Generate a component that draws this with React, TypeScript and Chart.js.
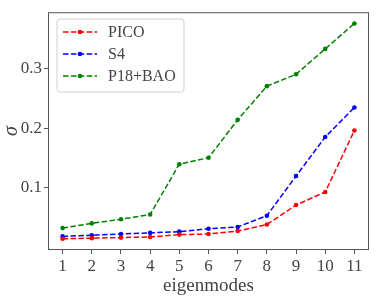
import React, { useEffect, useRef } from "react";
import { Chart, registerables } from "chart.js";

Chart.register(...registerables);

const modes = [1, 2, 3, 4, 5, 6, 7, 8, 9, 10, 11];
const pico = [0.013, 0.014, 0.015, 0.016, 0.02, 0.021, 0.026, 0.037, 0.07, 0.092, 0.196];
const s4 = [0.017, 0.019, 0.021, 0.023, 0.025, 0.03, 0.033, 0.052, 0.119, 0.185, 0.235];
const p18bao = [0.031, 0.039, 0.046, 0.054, 0.139, 0.15, 0.214, 0.271, 0.291, 0.334, 0.377];
const yTicks = [0.1, 0.2, 0.3];
const seriesNames = ["PICO", "S4", "P18+BAO"];
const seriesColors = ["#ff0000", "#0000ff", "#008000"];

const FONT = "'Liberation Serif', 'DejaVu Serif', serif";
const AXIS = "#555555";
const TEXT = "#444444";
const DASH = [5.5, 2.4];

const framePlugin = {
  id: "frame",
  afterDatasetsDraw(chart: any) {
    const { ctx, chartArea: a } = chart;
    ctx.save();
    ctx.strokeStyle = AXIS;
    ctx.lineWidth = 1;
    ctx.strokeRect(a.left + 0.5, a.top + 0.5, a.right - a.left - 1, a.bottom - a.top - 1);
    ctx.restore();
  },
};

const legendPlugin = {
  id: "customLegend",
  afterDraw(chart: any) {
    const { ctx } = chart;
    const x0 = 57, y0 = 19, w = 127, h = 73;
    ctx.save();
    ctx.fillStyle = "rgba(255,255,255,0.85)";
    ctx.strokeStyle = "#d0d0d0";
    ctx.lineWidth = 1;
    const r = 3;
    ctx.beginPath();
    ctx.moveTo(x0 + r, y0);
    ctx.lineTo(x0 + w - r, y0);
    ctx.arcTo(x0 + w, y0, x0 + w, y0 + r, r);
    ctx.lineTo(x0 + w, y0 + h - r);
    ctx.arcTo(x0 + w, y0 + h, x0 + w - r, y0 + h, r);
    ctx.lineTo(x0 + r, y0 + h);
    ctx.arcTo(x0, y0 + h, x0, y0 + h - r, r);
    ctx.lineTo(x0, y0 + r);
    ctx.arcTo(x0, y0, x0 + r, y0, r);
    ctx.closePath();
    ctx.fill();
    ctx.stroke();
    chart.data.datasets.forEach((ds: any, i: number) => {
      const cy = 32 + i * 22;
      ctx.strokeStyle = ds.borderColor;
      ctx.lineWidth = 1.5;
      ctx.setLineDash(DASH);
      ctx.beginPath();
      ctx.moveTo(63, cy);
      ctx.lineTo(97, cy);
      ctx.stroke();
      ctx.setLineDash([]);
      ctx.fillStyle = ds.borderColor;
      ctx.beginPath();
      ctx.arc(80, cy, 2.3, 0, Math.PI * 2);
      ctx.fill();
      ctx.fillStyle = TEXT;
      ctx.font = `16px ${FONT}`;
      ctx.textBaseline = "middle";
      ctx.textAlign = "left";
      ctx.fillText(ds.label, 108, cy + 1);
    });
    ctx.restore();
  },
};

export default function App() {
  const ref = useRef<HTMLCanvasElement>(null);
  useEffect(() => {
    document.body.style.margin = "0";
    const seriesValues = [pico, s4, p18bao];
    const chart = new Chart(ref.current!, {
      type: "line",
      data: {
        datasets: seriesValues.map((vals, i) => ({
          label: seriesNames[i],
          data: modes.map((m, j) => ({ x: m, y: vals[j] })),
          borderColor: seriesColors[i],
          backgroundColor: seriesColors[i],
          borderWidth: 1.5,
          borderDash: DASH,
          pointRadius: 2.3,
          pointBorderWidth: 0,
          pointBackgroundColor: seriesColors[i],
          tension: 0,
          fill: false,
        })),
      },
      options: {
        animation: false,
        responsive: false,
        maintainAspectRatio: false,
        layout: { padding: { left: 0, top: 11, right: 13, bottom: 0 } },
        plugins: { legend: { display: false }, tooltip: { enabled: false } },
        scales: {
          x: {
            type: "linear",
            min: 0.5,
            max: 11.5,
            afterBuildTicks: (s: any) => {
              s.ticks = modes.map((v) => ({ value: v }));
            },
            afterFit: (s: any) => {
              s.height = 54;
            },
            border: { display: false },
            grid: { display: true, drawOnChartArea: false, drawTicks: true, tickLength: 4, color: AXIS },
            ticks: {
              color: TEXT,
              font: { family: FONT, size: 17 },
              padding: 2,
              maxRotation: 0,
              autoSkip: false,
              callback: (v: any) => String(v),
            },
            title: {
              display: true,
              text: "eigenmodes",
              color: TEXT,
              font: { family: FONT, size: 19 },
              padding: { top: 0, bottom: 7 },
            },
          },
          y: {
            type: "linear",
            min: -0.006,
            max: 0.396,
            afterBuildTicks: (s: any) => {
              s.ticks = yTicks.map((v) => ({ value: v }));
            },
            afterFit: (s: any) => {
              s.width = 48;
            },
            border: { display: false },
            grid: { display: true, drawOnChartArea: false, drawTicks: true, tickLength: 4, color: AXIS },
            ticks: {
              color: TEXT,
              font: { family: FONT, size: 17 },
              padding: 2,
              callback: (v: any) => Number(v).toFixed(1),
            },
            title: {
              display: true,
              text: "σ",
              color: TEXT,
              font: { family: FONT, size: 20, style: "italic" },
              padding: { top: 0, bottom: 0 },
            },
          },
        },
      },
      plugins: [framePlugin, legendPlugin],
    });
    return () => chart.destroy();
  }, []);
  return (
    <div style={{ position: "absolute", left: 0, top: 0, width: 382, height: 304 }}>
      <canvas ref={ref} width={382} height={304} style={{ width: 382, height: 304 }} />
    </div>
  );
}
